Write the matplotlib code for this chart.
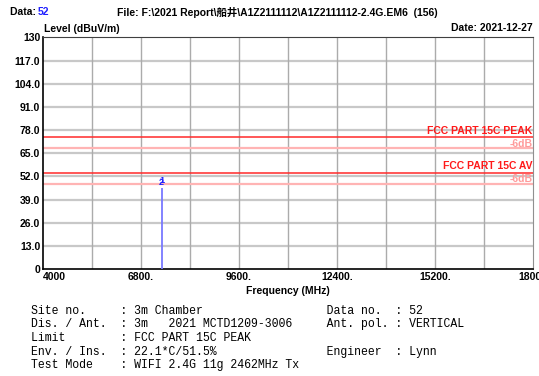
import matplotlib
matplotlib.use('Agg')
import matplotlib.pyplot as plt
import numpy as np

plt.rcParams['font.family'] = ['Liberation Sans', 'Noto Sans CJK SC', 'DejaVu Sans']

# data
freq_ticks = [4000, 6800, 9600, 12400, 15200, 18000]
freq_labels = ['4000', '6800.', '9600.', '12400.', '15200.', '18000']
level_ticks = [0, 13, 26, 39, 52, 65, 78, 91, 104, 117, 130]
level_labels = ['0', '13.0', '26.0', '39.0', '52.0', '65.0', '78.0', '91.0', '104.0', '117.0', '130']
peak_limit = 74.0
av_limit = 54.0
sig_freq = [7386]
sig_level = [45.3]
marker_level = 48.5

info_left = [('Site no.', '3m Chamber'),
             ('Dis. / Ant.', '3m   2021 MCTD1209-3006'),
             ('Limit', 'FCC PART 15C PEAK'),
             ('Env. / Ins.', '22.1*C/51.5%'),
             ('Test Mode', 'WIFI 2.4G 11g 2462MHz Tx')]
info_right = [('Data no.', '52'), ('Ant. pol.', 'VERTICAL'), None, ('Engineer', 'Lynn'), None]

fig = plt.figure(figsize=(5.39, 3.76), dpi=100)
ax = fig.add_axes([43/539, 1-269.2/376, 490/539, (269.2-37.4)/376])
ax.set_xlim(4000, 18000)
ax.set_ylim(0, 130)

# grid
for y in level_ticks[1:-1]:
    ax.axhline(y, color='#c8c8c8', lw=1.6, zorder=1)
for x in np.arange(4000, 18001, 1400)[1:-1]:
    ax.axvline(x, color='#ababab', lw=1.0, zorder=1)

# limits
ax.axhline(peak_limit, color='#ff2a2a', lw=1.1, zorder=2)
ax.axhline(peak_limit - 6, color='#ffb4b4', lw=1.6, zorder=2)
ax.axhline(av_limit, color='#ff2a2a', lw=1.1, zorder=2)
ax.axhline(av_limit - 6, color='#ffb4b4', lw=1.6, zorder=2)
ax.text(17980, peak_limit + 0.8, 'FCC PART 15C PEAK', color='#ff1a1a', fontsize=7.5,
        fontweight='bold', ha='right', va='bottom')
ax.text(17980, peak_limit - 0.8, '-6dB', color='#ff9a9a', fontsize=7.5,
        fontweight='bold', ha='right', va='top')
ax.text(17980, av_limit + 0.8, 'FCC PART 15C AV', color='#ff1a1a', fontsize=7.5,
        fontweight='bold', ha='right', va='bottom')
ax.text(17980, av_limit - 0.8, '-6dB', color='#ff9a9a', fontsize=7.5,
        fontweight='bold', ha='right', va='top')

# measured emission
ax.vlines(sig_freq, 0, sig_level, color='#7878ff', lw=1.3, zorder=3)
for f in sig_freq:
    ax.text(f, marker_level, '2', color='#2020ff', fontsize=6.5, fontweight='bold',
            ha='center', va='center', zorder=4)
    ax.text(f, marker_level + 1.2, '1', color='#2020ff', fontsize=6.5, fontweight='bold',
            ha='center', va='center', zorder=4)

ax.set_xticks(freq_ticks)
ax.set_xticklabels(freq_labels, fontsize=7.5, fontweight='bold')
ax.get_xticklabels()[0].set_ha('left')
ax.set_yticks(level_ticks)
ax.set_yticklabels(level_labels, fontsize=7.5, fontweight='bold')
ax.tick_params(length=0, pad=2)
ax.set_xlabel('Frequency (MHz)', fontsize=7.5, fontweight='bold', labelpad=3)

for s in ['left', 'bottom']:
    ax.spines[s].set_color('black')
    ax.spines[s].set_linewidth(1.2)
ax.spines['right'].set_color('#909090')
ax.spines['top'].set_color('#404040')
ax.spines['top'].set_linewidth(0.8)

# header texts
fig.text(10/539, 1-12/376, 'Data: ', fontsize=7.5, fontweight='bold', va='center')
fig.text(38/539, 1-12/376, '52', fontsize=7.5, fontweight='bold', va='center', color='#2020ff')
fig.text(117/539, 1-12/376, 'File: F:\\2021 Report\\船井\\A1Z2111112\\A1Z2111112-2.4G.EM6  (156)',
         fontsize=7.5, fontweight='bold', va='center')
fig.text(533/539, 1-28/376, 'Date: 2021-12-27', fontsize=7.5, fontweight='bold', va='center', ha='right')
fig.text(44/539, 1-29/376, 'Level (dBuV/m)', fontsize=7.5, fontweight='bold', va='center')

# info block, monospace rows
for i in range(len(info_left)):
    line = f'{info_left[i][0]:<13}: {info_left[i][1]}'
    if info_right[i] is not None:
        line = f'{line:<43}{info_right[i][0]:<10}: {info_right[i][1]}'
    y = 1 - (311 + i*13.5)/376
    fig.text(31/539, y, line, va='center', family='Liberation Mono', fontsize=8.3)

fig.savefig('out.png', dpi=100)
